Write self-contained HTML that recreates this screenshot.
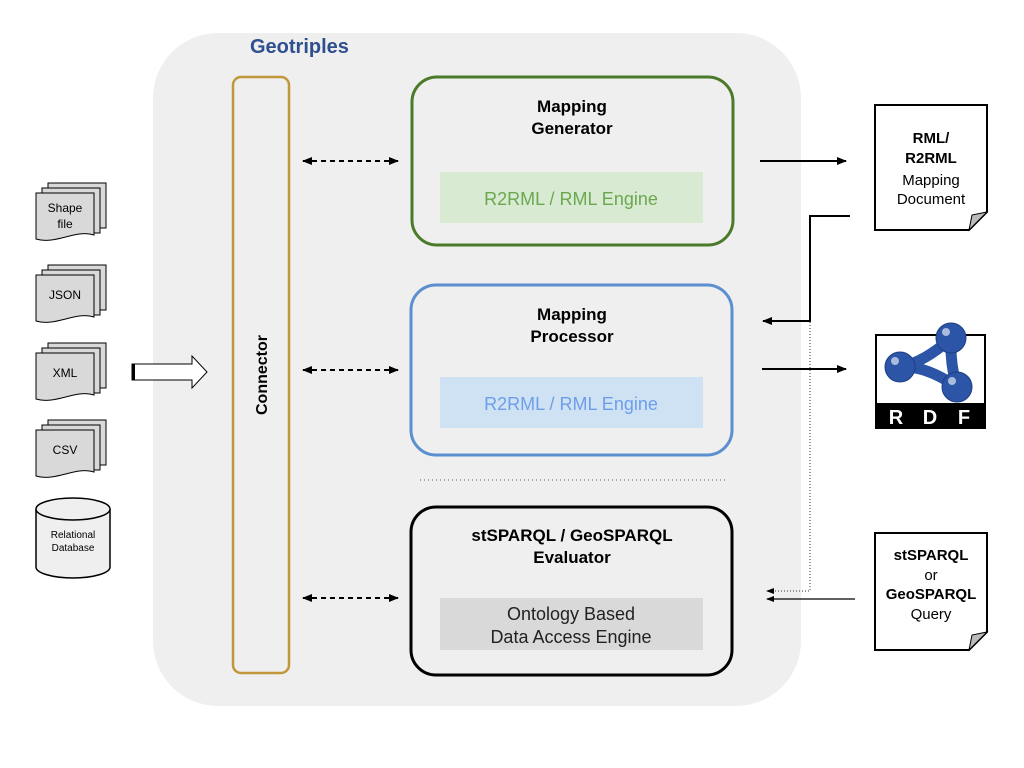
<!DOCTYPE html>
<html><head><style>body{margin:0;background:#fff}svg{display:block}text{font-family:"Liberation Sans",sans-serif}</style></head><body>
<svg width="1024" height="768" viewBox="0 0 1024 768">
<defs>
<marker id="ah" markerWidth="10" markerHeight="8" refX="9" refY="4" orient="auto-start-reverse" markerUnits="userSpaceOnUse"><path d="M0,0 L10,4 L0,8 Z" fill="#000"/></marker>
<marker id="sh" markerWidth="8" markerHeight="6" refX="7" refY="3" orient="auto-start-reverse" markerUnits="userSpaceOnUse"><path d="M0,0 L8,3 L0,6 Z" fill="#000"/></marker>
<g id="stack"><path d="M12,0 H70 V45 H12 Z" fill="#d9d9d9" stroke="#000"/><path d="M6,5 H64 V50 H6 Z" fill="#d9d9d9" stroke="#000"/><path d="M0,10 H58 V52 C40,46 20,62 0,56 Z" fill="#d9d9d9" stroke="#000"/></g>
</defs>
<rect x="153" y="33" width="648" height="673" rx="65" fill="#efefef"/>
<text x="250" y="53" font-size="20" font-weight="bold" fill="#2f4f8f">Geotriples</text>
<rect x="233" y="77" width="56" height="596" rx="8" fill="#efefef" stroke="#c0983a" stroke-width="2.5"/>
<text transform="translate(267,375) rotate(-90)" text-anchor="middle" font-size="16" font-weight="bold">Connector</text>

<rect x="412" y="77" width="321" height="168" rx="25" fill="#efefef" stroke="#4a7a2a" stroke-width="3"/>
<text x="572" y="112" text-anchor="middle" font-size="17" font-weight="bold">Mapping</text>
<text x="572" y="134" text-anchor="middle" font-size="17" font-weight="bold">Generator</text>
<rect x="440" y="172" width="263" height="51" fill="#d9ead3"/>
<text x="571" y="205" text-anchor="middle" font-size="18" fill="#6aa84f">R2RML / RML Engine</text>

<rect x="411" y="285" width="321" height="170" rx="25" fill="#efefef" stroke="#5b8fd0" stroke-width="3"/>
<text x="572" y="320" text-anchor="middle" font-size="17" font-weight="bold">Mapping</text>
<text x="572" y="342" text-anchor="middle" font-size="17" font-weight="bold">Processor</text>
<rect x="440" y="377" width="263" height="51" fill="#cfe2f3"/>
<text x="571" y="410" text-anchor="middle" font-size="18" fill="#6d9eeb">R2RML / RML Engine</text>

<line x1="420" y1="480" x2="728" y2="480" stroke="#555" stroke-dasharray="1,3"/>

<rect x="411" y="507" width="321" height="168" rx="25" fill="#efefef" stroke="#000" stroke-width="3"/>
<text x="572" y="541" text-anchor="middle" font-size="17" font-weight="bold">stSPARQL / GeoSPARQL</text>
<text x="572" y="563" text-anchor="middle" font-size="17" font-weight="bold">Evaluator</text>
<rect x="440" y="598" width="263" height="52" fill="#d9d9d9"/>
<text x="571" y="620" text-anchor="middle" font-size="18" fill="#222">Ontology Based</text>
<text x="571" y="643" text-anchor="middle" font-size="18" fill="#222">Data Access Engine</text>

<g stroke="#000" stroke-width="2" stroke-dasharray="5,4" fill="none">
<line x1="303" y1="161" x2="398" y2="161" marker-start="url(#ah)" marker-end="url(#ah)"/>
<line x1="303" y1="370" x2="398" y2="370" marker-start="url(#ah)" marker-end="url(#ah)"/>
<line x1="303" y1="598" x2="398" y2="598" marker-start="url(#ah)" marker-end="url(#ah)"/>
</g>
<g stroke="#000" stroke-width="2" fill="none">
<line x1="760" y1="161" x2="846" y2="161" marker-end="url(#ah)"/>
<line x1="762" y1="369" x2="846" y2="369" marker-end="url(#ah)"/>
<polyline points="850,216 810,216 810,321 763,321" marker-end="url(#ah)"/>
</g>
<polyline points="810,322 810,591 767,591" fill="none" stroke="#333" stroke-width="1" stroke-dasharray="1,2" marker-end="url(#sh)"/>
<line x1="855" y1="599" x2="767" y2="599" stroke="#000" stroke-width="1.3" marker-end="url(#sh)"/>

<path d="M875,105 H987 V212 L969,230 H875 Z" fill="#fff" stroke="#000" stroke-width="2"/>
<path d="M969,230 L972,215 L987,212 Z" fill="#bbb" stroke="#000"/>
<g font-size="15" text-anchor="middle"><text x="931" y="143" font-weight="bold">RML/</text><text x="931" y="163" font-weight="bold">R2RML</text><text x="931" y="185">Mapping</text><text x="931" y="204">Document</text></g>

<path d="M875,533 H987 V632 L969,650 H875 Z" fill="#fff" stroke="#000" stroke-width="2"/>
<path d="M969,650 L972,635 L987,632 Z" fill="#bbb" stroke="#000"/>
<g font-size="15" text-anchor="middle"><text x="931" y="560" font-weight="bold">stSPARQL</text><text x="931" y="580">or</text><text x="931" y="599" font-weight="bold">GeoSPARQL</text><text x="931" y="619">Query</text></g>

<rect x="876" y="335" width="109" height="93" fill="#fff" stroke="#000" stroke-width="2"/>
<rect x="876" y="403" width="109" height="25" fill="#000"/>
<g font-size="20" font-weight="bold" fill="#fff" text-anchor="middle"><text x="896" y="424">R</text><text x="930" y="424">D</text><text x="964" y="424">F</text></g>
<path d="M900,367 Q925,362 951,338 Q950,365 957,387 Q925,365 900,367 Z" fill="none" stroke="#2c55a8" stroke-width="11" stroke-linejoin="round"/>
<g fill="#2c55a8" stroke="#1e3f80" stroke-width="1">
<circle cx="900" cy="367" r="15"/><circle cx="951" cy="338" r="15"/><circle cx="957" cy="387" r="15"/>
</g>
<g fill="#fff" opacity="0.6"><circle cx="895" cy="361" r="4"/><circle cx="946" cy="332" r="4"/><circle cx="952" cy="381" r="4"/></g>

<g font-size="12" text-anchor="middle">
<use href="#stack" x="36" y="183"/><text x="65" y="212">Shape</text><text x="65" y="228">file</text>
<use href="#stack" x="36" y="265"/><text x="65" y="299">JSON</text>
<use href="#stack" x="36" y="343"/><text x="65" y="377">XML</text>
<use href="#stack" x="36" y="420"/><text x="65" y="454">CSV</text>
</g>
<path d="M36,509 V567 A37,11 0 0 0 110,567 V509" fill="#efefef" stroke="#000" stroke-width="1.5"/>
<ellipse cx="73" cy="509" rx="37" ry="11" fill="#efefef" stroke="#000" stroke-width="1.5"/>
<text x="73" y="538" font-size="10" text-anchor="middle">Relational</text>
<text x="73" y="551" font-size="10" text-anchor="middle">Database</text>

<path d="M132,364 H192 V356 L207,372 L192,388 V380 H132 Z" fill="#fff" stroke="#000"/>
<rect x="132" y="364" width="3" height="16" fill="#000"/>
</svg>
</body></html>
